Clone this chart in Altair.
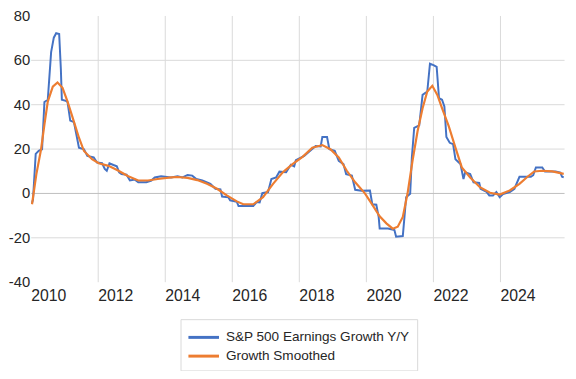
import altair as alt
import pandas as pd

S1 = "S&P 500 Earnings Growth Y/Y"
S2 = "Growth Smoothed"

blue_year = [2010.04, 2010.07, 2010.15, 2010.24, 2010.34, 2010.41, 2010.51, 2010.61, 2010.69, 2010.76,
             2010.85, 2010.90, 2010.93, 2011.05, 2011.10, 2011.18, 2011.29, 2011.44, 2011.59, 2011.69,
             2011.88, 2011.98, 2012.13, 2012.21, 2012.27, 2012.35, 2012.47, 2012.57, 2012.64, 2012.71,
             2012.86, 2012.96, 2013.11, 2013.21, 2013.45, 2013.60, 2013.70, 2013.89, 2014.19, 2014.38,
             2014.53, 2014.68, 2014.82, 2014.94, 2015.12, 2015.26, 2015.36, 2015.51, 2015.66, 2015.71,
             2015.90, 2015.95, 2016.15, 2016.20, 2016.64, 2016.74, 2016.83, 2016.91, 2017.08, 2017.18,
             2017.32, 2017.42, 2017.62, 2017.76, 2017.86, 2017.91, 2018.16, 2018.26, 2018.50, 2018.65,
             2018.70, 2018.84, 2018.91, 2019.07, 2019.19, 2019.33, 2019.41, 2019.58, 2019.68, 2019.87,
             2020.12, 2020.19, 2020.31, 2020.38, 2020.41, 2020.66, 2020.85, 2020.90, 2021.10, 2021.15,
             2021.20, 2021.32, 2021.37, 2021.44, 2021.59, 2021.69, 2021.83, 2021.91, 2022.03, 2022.11,
             2022.18, 2022.27, 2022.34, 2022.40, 2022.50, 2022.60, 2022.67, 2022.82, 2022.91, 2022.96,
             2023.11, 2023.21, 2023.38, 2023.42, 2023.60, 2023.68, 2023.79, 2023.89, 2023.99, 2024.09,
             2024.29, 2024.43, 2024.58, 2024.92, 2024.99, 2025.07, 2025.26, 2025.34, 2025.66, 2025.80,
             2025.85, 2025.90]
blue_value = [-4.5, -3.0, 17.6, 19.0, 19.7, 41.0, 42.0, 63.5, 70.0, 72.0,
              71.6, 56.0, 42.0, 41.5, 41.0, 32.6, 32.0, 20.4, 19.7, 16.7,
              16.0, 13.7, 13.4, 10.8, 10.0, 13.4, 12.6, 12.0, 9.3, 8.5,
              8.2, 5.6, 6.0, 4.8, 4.8, 5.6, 7.0, 7.5, 7.0, 7.5,
              7.0, 8.1, 7.8, 6.3, 5.6, 4.8, 4.1, 1.9, 1.6, -1.6,
              -2.0, -3.3, -4.0, -5.9, -5.9, -4.1, -4.3, -0.1, 0.4, 6.3,
              7.0, 9.6, 9.3, 12.7, 12.0, 14.8, 16.7, 18.0, 21.2, 21.0,
              25.2, 25.2, 19.7, 19.0, 14.5, 13.0, 8.5, 7.8, 1.4, 1.0,
              1.1, -5.1, -5.3, -10.8, -16.0, -16.0, -16.7, -19.7, -19.4, -10.8,
              -1.9, -0.4, 16.0, 29.3, 30.5, 44.2, 45.7, 58.3, 57.5, 56.8,
              42.7, 42.0, 39.0, 25.2, 22.6, 22.0, 15.2, 13.0, 6.3, 9.3,
              8.5, 4.8, 4.5, 1.9, 0.5, -1.1, -1.1, 0.4, -1.9, -0.5,
              0.4, 1.9, 7.3, 7.3, 8.0, 11.5, 11.5, 9.7, 9.7, 9.2,
              7.3, 7.0]

orange_year = [2010.04, 2010.17, 2010.31, 2010.41, 2010.51, 2010.66, 2010.80, 2010.95, 2011.10, 2011.24,
               2011.44, 2011.59, 2011.83, 2012.03, 2012.32, 2012.62, 2012.91, 2013.21, 2013.50, 2013.79,
               2014.19, 2014.38, 2014.68, 2014.97, 2015.26, 2015.56, 2015.85, 2016.15, 2016.34, 2016.64,
               2016.93, 2017.23, 2017.52, 2017.81, 2018.11, 2018.40, 2018.70, 2018.94, 2019.19, 2019.43,
               2019.68, 2019.97, 2020.17, 2020.41, 2020.61, 2020.80, 2020.95, 2021.10, 2021.24, 2021.39,
               2021.54, 2021.69, 2021.83, 2021.98, 2022.13, 2022.27, 2022.47, 2022.67, 2022.86, 2023.11,
               2023.40, 2023.70, 2023.99, 2024.29, 2024.58, 2024.82, 2025.02, 2025.26, 2025.56, 2025.90]
orange_value = [-5.1, 8.5, 19.7, 30.8, 41.2, 47.9, 49.8, 47.4, 41.2, 34.5,
                24.9, 18.9, 15.2, 13.4, 12.2, 10.0, 7.5, 5.6, 5.6, 6.3,
                7.0, 7.2, 6.8, 5.8, 4.1, 1.9, -1.1, -3.8, -5.1, -5.1,
                -1.9, 4.1, 9.3, 13.0, 16.3, 20.4, 21.6, 19.7, 16.0, 10.0,
                4.8, -0.2, -4.8, -10.5, -13.7, -16.1, -15.2, -10.8, -0.4, 14.5,
                27.8, 38.2, 45.7, 48.3, 44.2, 38.2, 30.1, 20.4, 11.5, 7.0,
                2.6, 0.1, -0.7, 1.1, 4.1, 7.3, 9.7, 10.0, 9.7, 8.6]

x_ticks = [2010, 2012, 2014, 2016, 2018, 2020, 2022, 2024]
y_ticks = [-40, -20, 0, 20, 40, 60, 80]

df = pd.concat([
    pd.DataFrame({"year": blue_year, "value": blue_value, "series": S1, "k": 0}),
    pd.DataFrame({"year": orange_year, "value": orange_value, "series": S2, "k": 1}),
], ignore_index=True)

FONT = "Liberation Sans"
TXT = "#262626"

color = alt.Color(
    "series:N",
    scale=alt.Scale(domain=[S1, S2], range=["#4472C4", "#ED7D31"]),
    legend=alt.Legend(
        title=None, orient="none", legendX=152, legendY=308, direction="vertical",
        symbolType="M-1.05,0L2.05,0", symbolSize=400, symbolStrokeWidth=3,
        labelFontSize=13.75, labelFont=FONT, labelColor=TXT, labelLimit=400,
        strokeColor="#d9d9d9", fillColor="white", padding=7, rowPadding=-3, labelOffset=16,
    ),
)

x = alt.X(
    "year:Q",
    scale=alt.Scale(domain=[2010, 2025.91], nice=False, zero=False),
    axis=alt.Axis(
        values=x_ticks, format="d", title=None, ticks=False, domain=False,
        labelAlign="left", labelFlush=False, labelOverlap=False, labelPadding=6,
        labelFontSize=16, labelFont=FONT, labelColor=TXT,
        gridColor="#d9d9d9",
        gridOpacity={"condition": {"test": "datum.value === 2010", "value": 0}, "value": 1},
    ),
)

y = alt.Y(
    "value:Q",
    scale=alt.Scale(domain=[-40, 80], nice=False, zero=False),
    axis=alt.Axis(
        values=y_ticks, title=None, ticks=False, domain=False,
        labelExpr="'' + datum.value",
        labelPadding=1, labelFontSize=15, labelFont=FONT, labelColor=TXT,
        labelOverlap=False, labelFlush=False,
        gridColor={"condition": {"test": "datum.value === 0", "value": "#bfbfbf"}, "value": "#d9d9d9"},
        gridOpacity={"condition": {"test": "datum.value === 80 || datum.value === -40", "value": 0}, "value": 1},
    ),
)

base = alt.Chart(df).encode(x=x, y=y, color=color, order="year:Q")

blue = base.transform_filter(alt.datum.k == 0).mark_line(strokeWidth=2, clip=True)
orange = base.transform_filter(alt.datum.k == 1).mark_line(strokeWidth=2.2, clip=True)

chart = alt.layer(blue, orange).properties(
    width=541, height=270,
    autosize=alt.AutoSizeParams(type="none"),
    padding={"left": 23, "top": 5, "right": 4, "bottom": 88},
    background="white",
).configure_view(stroke=None)

chart.save("out.html", embed_options={"renderer": "svg", "actions": False})
